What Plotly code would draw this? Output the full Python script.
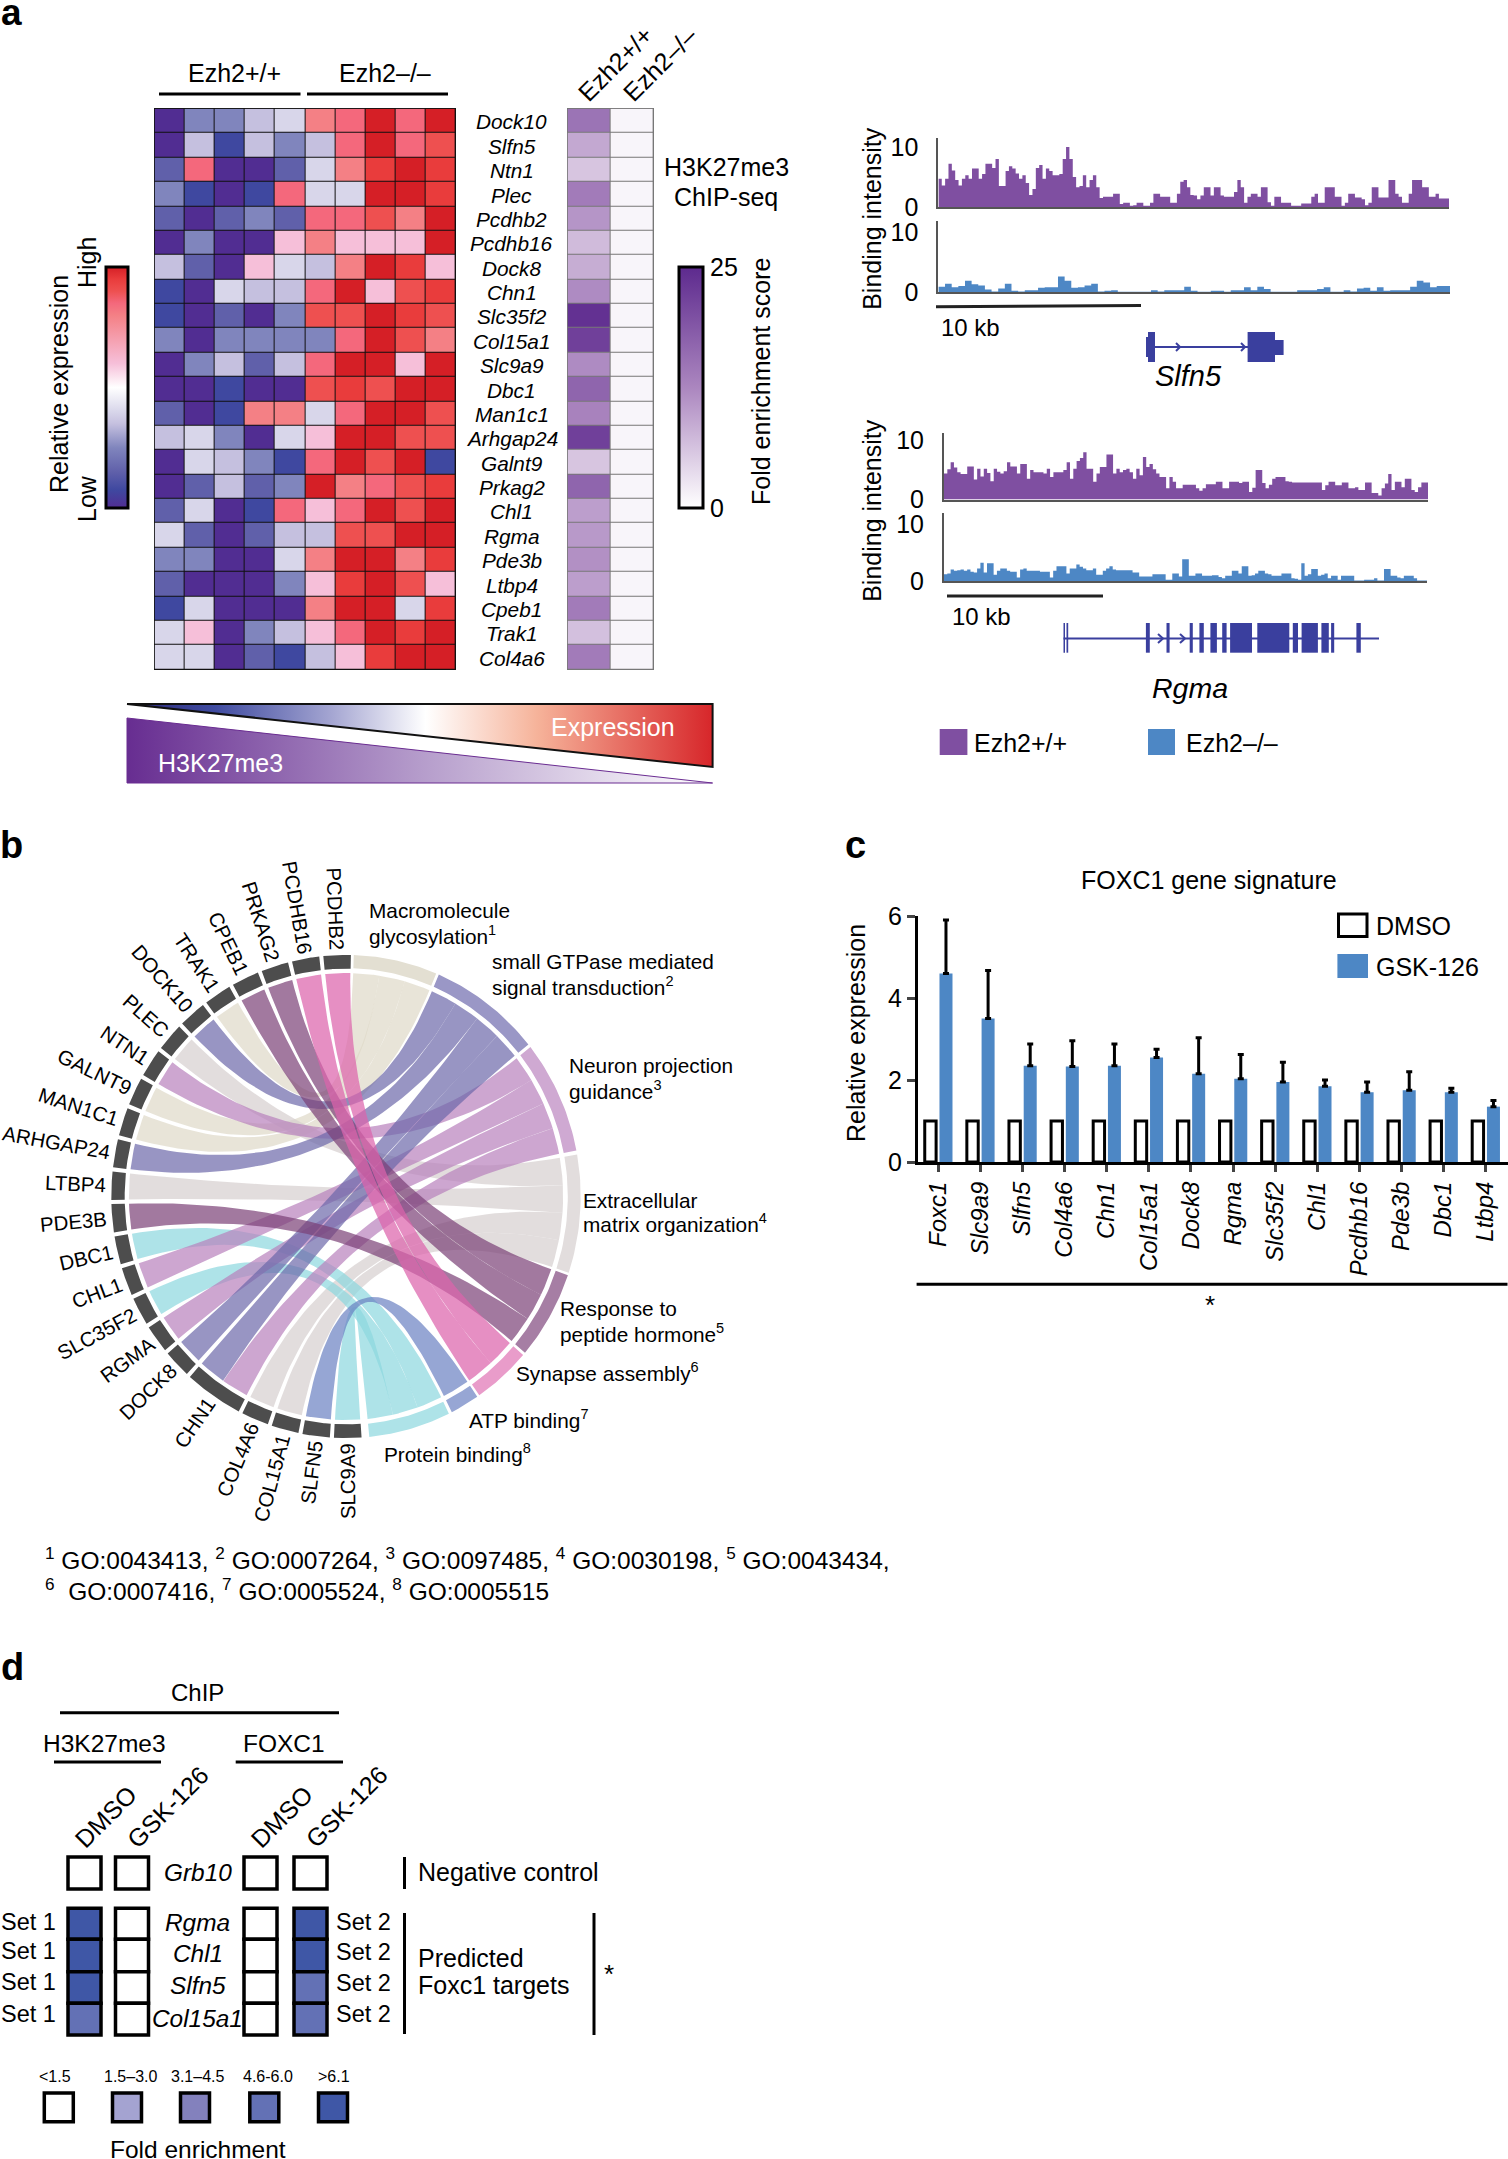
import numpy as np
import plotly.graph_objects as go

W, H = 1508, 2159
FONT = "Liberation Sans"

# ---------- panel a data ----------
heat_genes = ["Dock10","Slfn5","Ntn1","Plec","Pcdhb2","Pcdhb16","Dock8","Chn1","Slc35f2","Col15a1","Slc9a9","Dbc1",
              "Man1c1","Arhgap24","Galnt9","Prkag2","Chl1","Rgma","Pde3b","Ltbp4","Cpeb1","Trak1","Col4a6"]
heat_samples = ["wt1","wt2","wt3","wt4","wt5","ko1","ko2","ko3","ko4","ko5"]
heat_values = [
 [-1,-.5,-.5,-.3,-.2,.6,.7,1,.7,1],
 [-1,-.3,-.85,-.3,-.5,-.3,.7,1,.7,.8],
 [-.7,.7,-1,-1,-.7,-.2,.6,.9,1,.9],
 [-.5,-.85,-1,-.85,.7,-.2,-.2,1,1,.9],
 [-.7,-1,-.7,-.5,-.7,.7,.7,.8,.6,1],
 [-1,-.5,-1,-1,.2,.6,.2,.2,.2,1],
 [-.3,-.7,-1,.2,-.2,-.3,.6,1,.9,.2],
 [-.85,-1,-.2,-.3,-.3,.7,1,.2,.8,.9],
 [-.85,-1,-.7,-1,-.5,.8,.8,1,.9,.8],
 [-.5,-1,-.5,-.5,-.5,-.5,.7,1,.8,.6],
 [-1,-.5,-.3,-.7,-.3,.7,1,1,.2,1],
 [-1,-1,-.85,-1,-1,.8,.9,.8,1,1],
 [-.7,-1,-.85,.6,.6,-.2,.7,1,1,.8],
 [-.3,-.2,-.5,-1,-.2,.2,1,1,.8,.8],
 [-1,-.2,-.3,-.5,-.85,.7,1,.8,1,-.85],
 [-1,-.7,-.3,-.7,-.5,1,.6,.7,.8,.9],
 [-.7,-.2,-1,-.85,.7,.2,.7,1,.8,1],
 [-.2,-.7,-1,-.7,-.3,-.3,.8,.8,1,1],
 [-.5,-.5,-1,-1,-.2,.6,1,1,.6,.9],
 [-.7,-1,-1,-1,-.5,.2,.9,1,.8,.2],
 [-.85,-.2,-1,-1,-1,.6,1,1,-.2,.9],
 [-.2,.2,-1,-.5,-.3,.2,.7,1,.9,1],
 [-.2,-.2,-1,-.7,-.85,-.3,.2,.9,1,1],
]
enrich_wt = [15,9,6,14,11,7,8.5,12,24,22,12,17,13,22,6,17,10,10.5,11.5,10,14,6.5,14]
enrich_ko = [1]*23

slfn5_wt = [4.7,3.6,4.7,7.2,6.1,4.5,3.6,4.7,5.3,4.7,6.4,6.4,4.7,5.5,7.2,7.2,6.5,8,3.5,3.5,6,6.8,6.4,5.6,4.7,5.3,4,2,3,6.5,7,4.7,6.4,6,5.3,5.3,5.5,8,10,8,5,3.3,3.5,5.3,3.3,4.5,5.3,3.3,1.5,1.7,1.7,1.7,2.2,2.2,.5,.7,.7,.2,.3,.7,.7,.2,.2,.7,2.2,2.2,1.7,1.7,1.7,.7,.7,2.2,4.2,4.5,3.3,2,
            1.9,1.3,1.9,3.3,3.3,1.9,3.3,3.3,1.9,1.7,1.7,1.7,2.5,4.5,3.3,.7,1.7,2.2,2.2,1.7,3.3,3.3,.8,.2,1.7,1.7,.7,.7,.7,.2,.2,.2,.6,.6,.6,1.7,2.2,.7,.7,3.3,3.3,3.3,1.7,1.7,.2,.7,2.2,2.2,1.6,1.6,1.3,.3,.7,3.3,3.3,1.6,1.6,1.6,4.5,4.5,2.2,1.7,.7,.7,2.2,4.5,4.5,4.5,3.3,3.3,1.7,1.7,2.2,1.4,1.4,1.4]
slfn5_ko = [.9,1.4,.8,1.0,1.9,1.3,1.1,.4,.1,.6,1.4,.2,.1,.3,.3,.7,.8,.8,2.6,1.9,.7,.8,1.1,1.4,.1,.2,.3,.05,.05,.05,.05,.05,.3,.1,.3,.3,.3,.9,.2,.05,.05,.2,.2,.05,.3,.3,.8,.3,.9,.5,.05,.05,.05,.05,.3,.3,.3,.5,.8,.05,.05,.3,.1,.6,.7,.2,.8,.2,.3,.3,.3,.9,1.9,1.6,.8,1.0,1.0]
rgma_wt = [4.4,5.1,6.3,5.4,4.6,4.3,4.3,5.6,5.6,3.4,5.2,3.9,5.2,4.5,3.1,5.2,4.7,4.4,4.8,6.3,5.6,5.6,4.4,6,6,3.5,5,4.6,4.6,4.6,4.4,5.2,3.8,4.6,4.6,4.6,5,6.3,3.5,5.2,6.5,7,8,5.2,5.2,3,4.4,5.5,5.5,7.6,7.6,4.4,5.2,4.6,5,5.2,4.6,3.5,5.2,4.1,7.2,5.5,6,5.1,4.4,3.8,3.8,1.9,3.8,3,1.9,1.9,2.5,2.5,
           2.5,2.5,1.9,1.5,1.9,2.6,2.6,2.6,3,3,1.9,1.9,3,3,3,2.8,3,3,1.3,2,5,5,2.8,1.9,2.5,3.5,3.8,3.8,3.8,3.1,3,2.9,2.9,2.9,2.9,2.9,2.9,2.9,2.9,2.9,1.6,2.4,3,3,2.4,2.4,2.9,2.9,1.9,1.9,2.1,1.6,1.6,2.9,2.9,1.1,1.1,.7,1.9,2.7,4.3,1.6,3,3,2.1,3.5,3.5,1.6,1.3,2.1,2.9,2.9]
rgma_ko = [1.2,1.3,2,1.8,1.9,2,1.8,2,1.6,1.5,2.2,3.2,1.5,3.1,3.1,1.1,1.8,2.2,2.2,1.8,1.6,1.6,.6,2,2.2,1.8,1.8,1.8,1.8,1.6,1.6,1.6,.6,1.8,2.6,2.6,2.6,1.3,2.2,2.2,2.9,2.5,2.2,1.9,1.9,2.2,1.1,1.1,1.8,2.2,2.6,2,1.9,1.9,1.9,1.9,1.9,1.5,1.5,.8,.8,.8,.8,1.2,1.2,1.2,1.2,.2,.2,1.3,1.3,.8,3.8,3.8,
           .9,.9,1.3,1.3,.9,.9,.9,1,1,.7,.5,.9,.9,1.8,1.8,1.3,2.6,2.6,.9,1,1.3,1.8,1.8,1.3,1.2,.9,.9,.9,1.3,1.3,1.3,.5,.4,.2,3.1,.9,1.2,2.1,2.1,.9,1.1,1.3,.5,.9,.9,.2,.9,.9,.9,.9,.1,.1,.1,.2,.2,.2,.5,.1,.1,2.1,2.1,.9,.9,.6,.5,.9,.9,.9,.5,.1,.1,.1]

# ---------- panel b data ----------
chord_genes = ["PCDHB2","PCDHB16","PRKAG2","CPEB1","TRAK1","DOCK10","PLEC","NTN1","GALNT9","MAN1C1","ARHGAP24","LTBP4",
               "PDE3B","DBC1","CHL1","SLC35F2","RGMA","DOCK8","CHN1","COL4A6","COL15A1","SLFN5","SLC9A9"]
chord_terms = ["Macro","GTPase","Neuron","ECM","Response","Synapse","ATP","Protein"]
chord_links = [("PCDHB2","Synapse"),("PCDHB16","Synapse"),("PRKAG2","Response"),("CPEB1","Response"),("TRAK1","Macro"),
               ("DOCK10","GTPase"),("PLEC","ECM"),("NTN1","Neuron"),("GALNT9","Macro"),("MAN1C1","Macro"),("ARHGAP24","GTPase"),
               ("LTBP4","ECM"),("PDE3B","Response"),("DBC1","Protein"),("CHL1","Neuron"),("SLC35F2","Protein"),("RGMA","Neuron"),
               ("DOCK8","GTPase"),("CHN1","GTPase"),("CHN1","Neuron"),("COL4A6","ECM"),("COL15A1","ECM"),("SLFN5","ATP"),("SLC9A9","Protein")]

# ---------- panel c data ----------
bar_genes = ["Foxc1","Slc9a9","Slfn5","Col4a6","Chn1","Col15a1","Dock8","Rgma","Slc35f2","Chl1","Pcdhb16","Pde3b","Dbc1","Ltbp4"]
dmso_vals = [1]*14
gsk_vals = [4.6,3.5,2.35,2.33,2.35,2.55,2.15,2.03,1.95,1.85,1.7,1.75,1.7,1.35]
gsk_top = [5.9,4.67,2.88,2.96,2.88,2.75,3.03,2.62,2.43,2.0,1.95,2.2,1.8,1.5]

# ---------- panel d data ----------
chip_rows = ["Rgma","Chl1","Slfn5","Col15a1"]
h3_dmso = [4,4,4,3]
h3_gsk = [0,0,0,0]
fx_dmso = [0,0,0,0]
fx_gsk = [4,4,3,3]
grb10_row = [0,0,0,0]
fold_labels = ["<1.5","1.5–3.0","3.1–4.5","4.6-6.0",">6.1"]
fold_levels = [0,1,2,3,4]

# ---------- helpers ----------
layout_axes, annots, shapes, traces = {}, [], [], []

def text(x, y, t, size=25, anchor="center", angle=0, color="black", bold=False, italic=False):
    if bold: t = f"<b>{t}</b>"
    if italic: t = f"<i>{t}</i>"
    if anchor == "left": x = max(x-2.5, 0)
    annots.append(dict(xref="paper", yref="paper", x=x/W, y=1-y/H, text=t, showarrow=False, xanchor=anchor,
                       yanchor="middle", textangle=angle, font=dict(family=FONT, size=size, color=color), borderpad=0))

def rect(x0, y0, x1, y1, fill="black", line=None, lw=0, layer="above"):
    shapes.append(dict(type="rect", xref="paper", yref="paper", x0=x0/W, x1=x1/W, y0=1-y0/H, y1=1-y1/H,
                       fillcolor=fill, line=dict(color=line or fill, width=lw), layer=layer))

def line(x0, y0, x1, y1, color="black", lw=3):
    shapes.append(dict(type="line", xref="paper", yref="paper", x0=x0/W, x1=x1/W, y0=1-y0/H, y1=1-y1/H,
                       line=dict(color=color, width=lw)))

def axes(n, x0, x1, y0, y1, xopt=None, yopt=None):
    base = dict(showgrid=False, zeroline=False, visible=False)
    xo = dict(base, domain=[x0/W, x1/W], anchor=f"y{n}"); xo.update(xopt or {})
    yo = dict(base, domain=[1-y1/H, 1-y0/H], anchor=f"x{n}"); yo.update(yopt or {})
    layout_axes[f"xaxis{n}"] = xo
    layout_axes[f"yaxis{n}"] = yo
    return f"x{n}", f"y{n}"

# ---------- panel a: heatmaps ----------
expr_scale = [[0,'#512d92'],[.075,'#3f48a0'],[.15,'#6060aa'],[.25,'#8085bd'],[.35,'#c5c0df'],[.4,'#d8d6ea'],[.5,'#ffffff'],
              [.6,'#f6bfd9'],[.8,'#f48085'],[.85,'#f4687c'],[.9,'#ee5050'],[.95,'#e93c3c'],[1,'#d51f26']]
xa, ya = axes(1, 154.6, 455.6, 108.7, 669.4, yopt=dict(autorange="reversed"))
rect(154, 108, 456, 670, fill="#111111", layer="below")
traces.append(go.Heatmap(z=heat_values, x=heat_samples, y=heat_genes, xaxis=xa, yaxis=ya, colorscale=expr_scale, zmin=-1, zmax=1,
    xgap=1, ygap=1, hoverinfo="skip",
    colorbar=dict(x=105.7/W, xanchor="left", y=1-267/H, yanchor="top", len=241, lenmode="pixels", thickness=22, thicknessmode="pixels",
                  outlinecolor="black", outlinewidth=3, showticklabels=False, ticks="", xpad=0, ypad=0)))
enrich_scale = [[0,'#ffffff'],[.5,'#ab86bf'],[1,'#5d2a8e']]
xa, ya = axes(2, 567.6, 653.4, 108.7, 669.4, yopt=dict(autorange="reversed"))
rect(567, 108, 654, 670, fill="#777777", layer="below")
traces.append(go.Heatmap(z=[list(v) for v in zip(enrich_wt, enrich_ko)], x=["Ezh2+/+","Ezh2-/-"], y=heat_genes, xaxis=xa, yaxis=ya,
    colorscale=enrich_scale, zmin=0, zmax=25, xgap=1, ygap=1, hoverinfo="skip",
    colorbar=dict(x=678.6/W, xanchor="left", y=1-267/H, yanchor="top", len=241, lenmode="pixels", thickness=24, thicknessmode="pixels",
                  outlinecolor="black", outlinewidth=3, tickvals=[0,25], ticks="", tickfont=dict(family=FONT, size=25), xpad=0, ypad=0)))
row_h = (669.4-108.7)/23
for i, g in enumerate(heat_genes):
    text(511.5, 109.7+row_h*(i+.5), g, size=20.8, italic=True)

text(235, 73, "Ezh2+/+"); text(385, 73, "Ezh2–/–")
line(159, 94, 300.5, 94); line(307, 94, 448, 94)
text(615, 64, "Ezh2+/+", angle=-45); text(660, 64, "Ezh2–/–", angle=-45)
text(726, 167, "H3K27me3"); text(726, 197, "ChIP-seq")
text(59, 384, "Relative expression", angle=-90); text(87, 263, "High", angle=-90); text(87, 499, "Low", angle=-90)
text(761, 381, "Fold enrichment score", angle=-90)

# gradient wedges
xa, ya = axes(3, 120, 720, 698, 790, xopt=dict(range=[120,720]), yopt=dict(range=[790,698]))
expr_wedge_x, expr_wedge_y = [127,712.6,712.6,127], [704,704,767,704]
h3_wedge_x, h3_wedge_y = [127,127,712.6,127], [718,783,783,718]
traces.append(go.Scatter(x=expr_wedge_x, y=expr_wedge_y, xaxis=xa, yaxis=ya, mode="lines", line=dict(color="#111111", width=2), fill="toself",
    fillgradient=dict(type="horizontal", colorscale=[[0,'#2e2a7a'],[.15,'#3f4ba0'],[.35,'#a5a6d2'],[.51,'#ffffff'],[.7,'#f6b39a'],[1,'#d7262a']]), hoverinfo="skip"))
traces.append(go.Scatter(x=h3_wedge_x, y=h3_wedge_y, xaxis=xa, yaxis=ya, mode="lines", line=dict(color="#6a2c91", width=1), fill="toself",
    fillgradient=dict(type="horizontal", colorscale=[[0,'#672d91'],[.5,'#b59ccb'],[1,'#ffffff']]), hoverinfo="skip"))
text(613, 727, "Expression", color="white"); text(220.5, 763, "H3K27me3", color="white")

# ---------- panel a: binding tracks ----------
PURPLE, BLUE = "#7f4fa1", "#4d87c5"
def track(n, vals, x0, x1, y0, y1, top, color):
    xa, ya = axes(n, x0, x1, y0, y1,
        xopt=dict(visible=True, range=[0,len(vals)], showline=True, linecolor="#555555", linewidth=2, showticklabels=False, ticks=""),
        yopt=dict(visible=True, range=[0,top], showline=True, linecolor="#555555", linewidth=2, tickvals=[0,10], ticks="",
                  tickfont=dict(family=FONT, size=25), ticklabelstandoff=13))
    bins = list(range(len(vals)+1))
    traces.append(go.Scatter(x=bins, y=list(vals)+[vals[-1]], xaxis=xa, yaxis=ya, mode="lines", fill="tozeroy",
                             line=dict(shape="hv", width=0, color=color), fillcolor=color, hoverinfo="skip"))
track(4, slfn5_wt, 938.4, 1449, 138, 207, 11.5, PURPLE)
track(5, slfn5_ko, 938.4, 1450, 220.5, 292, 12, BLUE)
track(6, rgma_wt, 944, 1428, 432.6, 499.6, 11.3, PURPLE)
track(7, rgma_ko, 944, 1427, 513, 581, 11.9, BLUE)
text(871.8, 218, "Binding intensity", angle=-90); text(871.8, 510, "Binding intensity", angle=-90)
line(936, 306.7, 1141, 305.4, color="#222222"); text(970, 327.7, "10 kb", size=24)
line(947, 596, 1103, 596, color="#222222"); text(981, 616.5, "10 kb", size=24)
GENE = "#3a3f9e"
# Slfn5 gene model
line(1146, 347, 1248, 347, color=GENE, lw=2)
rect(1146, 337, 1155, 357, fill=GENE); rect(1148, 332, 1155, 362, fill=GENE)
rect(1247.6, 332, 1275, 362, fill=GENE); rect(1275, 340, 1283.6, 355, fill=GENE)
for c in (1180, 1245):
    line(c-4, 343, c, 347, color=GENE, lw=2); line(c-4, 351, c, 347, color=GENE, lw=2)
text(1188, 376, "Slfn5", size=29, italic=True)
# Rgma gene model
line(1063.5, 638.4, 1379, 638.4, color=GENE, lw=2)
for a, b in [(1063.5,1065),(1066.5,1068.2),(1145.9,1149.8),(1166.5,1169.6),(1189.7,1192.8),(1199.4,1203.8),(1210.4,1216.9),(1222.2,1226.6),
             (1230.1,1252),(1257.3,1289.3),(1292.8,1298),(1301.6,1317.9),(1321.4,1328.8),(1331.1,1334.2),(1356.4,1360.8)]:
    rect(a, 623, b, 652.7, fill=GENE)
for c in (1163, 1185):
    line(c-5, 634, c, 638.4, color=GENE, lw=2); line(c-5, 643, c, 638.4, color=GENE, lw=2)
text(1189.7, 688, "Rgma", size=28.5, italic=True)
# legend
rect(939.7, 729, 967.4, 755, fill=PURPLE); text(975.7, 743, "Ezh2+/+", anchor="left")
rect(1148, 729, 1175, 755, fill=BLUE); text(1187.5, 743, "Ezh2–/–", anchor="left")

# ---------- panel b: chord ----------
cx, cy, Rx, Ry = 346, 1196.5, 234.7, 241.6
PAD = 1.12
xa, ya = axes(8, cx-PAD*Rx, cx+PAD*Rx, cy-PAD*Ry, cy+PAD*Ry, xopt=dict(range=[-PAD,PAD]), yopt=dict(range=[-PAD,PAD]))
term_start = dict(Macro=1.9, GTPase=23.3, Neuron=51.8, ECM=80, Response=109, Synapse=131, ATP=146, Protein=154)
term_end = dict(Macro=22.6, GTPase=51, Neuron=79, ECM=108.4, Response=130.3, Synapse=145.4, ATP=153.2, Protein=174.3)
term_ring = dict(Macro='#e3dfd2', GTPase='#9a97c6', Neuron='#cfa9d2', ECM='#e2dddd', Response='#a67ea4', Synapse='#e99cca', ATP='#97a6d4', Protein='#aee3e8')
term_rib = dict(Macro='rgba(222,216,199,.7)', GTPase='rgba(108,104,169,.7)', Neuron='rgba(184,128,188,.7)', ECM='rgba(214,206,206,.7)',
                Response='rgba(122,64,118,.7)', Synapse='rgba(221,100,172,.72)', ATP='rgba(106,128,194,.7)', Protein='rgba(139,215,222,.7)')
draw_order = ["Macro","ECM","Protein","Neuron","GTPase","ATP","Response","Synapse"]
UNIT, GAP, START = 7.75, 1.0, 361.2
def pt(a, r):
    t = np.radians(a)
    return r*np.sin(t), r*np.cos(t)
def arc(a0, a1, r, n=24):
    return pt(np.linspace(a0, a1, n), r)
def band(a0, a1, r0, r1, color):
    x0, y0 = arc(a0, a1, r1); x1, y1 = arc(a1, a0, r0)
    traces.append(go.Scatter(x=np.r_[x0, x1], y=np.r_[y0, y1], xaxis=xa, yaxis=ya, mode="lines", fill="toself", fillcolor=color,
                             line=dict(width=0, color=color), hoverinfo="skip"))
def bez(a0, a1, r):
    p0, p1 = np.array(pt(a0, r)), np.array(pt(a1, r))
    t = np.linspace(0, 1, 50)
    return (1-t)**2*p0[0]+t**2*p1[0], (1-t)**2*p0[1]+t**2*p1[1]

link_count = {g: sum(1 for a, _ in chord_links if a == g) for g in chord_genes}
term_count = {t: sum(1 for _, b in chord_links if b == t) for t in chord_terms}
gene_pos, cursor = {}, START
for g in chord_genes:
    span = UNIT*link_count[g]
    gene_pos[g] = (cursor-span+GAP, cursor)
    cursor -= span
used_g = {g: 0 for g in chord_genes}; used_t = {t: 0 for t in chord_terms}
RIB = .925
ribbons = []
for g, t in chord_links:
    hi, lo = gene_pos[g][1], gene_pos[g][0]
    w = (hi-lo)/link_count[g]
    g_hi = hi-used_g[g]*w; g_lo = g_hi-w
    used_g[g] += 1
    tw = (term_end[t]-term_start[t])/term_count[t]
    t0 = term_start[t]+used_t[t]*tw; t1 = t0+tw
    used_t[t] += 1
    ribbons.append((t, t0, t1, g_lo+.05, g_hi-.05))
for t, t0, t1, g0, g1 in sorted(ribbons, key=lambda r: draw_order.index(r[0])):
    ax0, ay0 = arc(t0, t1, RIB); bx0, by0 = bez(t1, g0, RIB); ax1, ay1 = arc(g0, g1, RIB); bx1, by1 = bez(g1, t0, RIB)
    traces.append(go.Scatter(x=np.r_[ax0, bx0, ax1, bx1], y=np.r_[ay0, by0, ay1, by1], xaxis=xa, yaxis=ya, mode="lines", fill="toself",
                             fillcolor=term_rib[t], line=dict(width=0, color=term_rib[t]), hoverinfo="skip"))
CW = dict(zip("ABCDEFGHIJKLMNOPQRSTUVWXYZ0123456789",
              [.667,.667,.722,.722,.667,.611,.778,.722,.278,.5,.667,.556,.833,.722,.778,.667,.778,.722,.667,.611,.722,.667,.944,.667,.667,.611]+[.556]*10))
for g in chord_genes:
    band(gene_pos[g][0], gene_pos[g][1], .943, 1.0, "#4d4d4d")
    mid = sum(gene_pos[g])/2
    L = sum(CW[c] for c in g)*20.4
    px = cx+(Rx+5+L/2)*np.sin(np.radians(mid)); py = cy-(Ry+5+L/2)*np.cos(np.radians(mid))
    text(px, py, g, size=20.4, angle=(mid-360)+90)
for t in chord_terms:
    band(term_start[t], term_end[t], .945, 1.0, term_ring[t])

for x, y, s in [(370,910,"Macromolecule"),(370,934.6,"glycosylation<sup>1</sup>"),(493,961,"small GTPase mediated"),(493,985.6,"signal transduction<sup>2</sup>"),
                (570,1065.7,"Neuron projection"),(570,1090,"guidance<sup>3</sup>"),(584.7,1200,"Extracellular"),(584.7,1223,"matrix organization<sup>4</sup>"),
                (561,1308,"Response to"),(561,1332.6,"peptide hormone<sup>5</sup>"),(517,1372,"Synapse assembly<sup>6</sup>"),(470,1418.5,"ATP binding<sup>7</sup>"),(385,1453,"Protein binding<sup>8</sup>")]:
    text(x, y, s, size=20.8, anchor="left")
text(46, 1558.6, "<sup>1</sup> GO:0043413, <sup>2</sup> GO:0007264, <sup>3</sup> GO:0097485, <sup>4</sup> GO:0030198, <sup>5</sup> GO:0043434,", size=24.5, anchor="left")
text(46, 1589, "<sup>6</sup>  GO:0007416, <sup>7</sup> GO:0005524, <sup>8</sup> GO:0005515", size=24.5, anchor="left")

# ---------- panel c: bars ----------
xa, ya = axes(9, 918, 1508, 916, 1162,
    xopt=dict(visible=True, range=[-.48,13.53], showline=True, linecolor="black", linewidth=3, ticks="outside", ticklen=7, tickwidth=3,
              tickmode="array", tickvals=bar_genes, ticktext=[f"<i>{g}</i>" for g in bar_genes], tickangle=-90, tickfont=dict(family=FONT, size=24), categoryorder="array", categoryarray=bar_genes),
    yopt=dict(visible=True, range=[0,6], showline=True, linecolor="black", linewidth=3, ticks="outside", ticklen=8, tickwidth=3, tickvals=[0,2,4,6], tickfont=dict(family=FONT, size=25)))
traces.append(go.Bar(x=bar_genes, y=dmso_vals, xaxis=xa, yaxis=ya, width=.27, offset=-.32, marker=dict(color="white", line=dict(color="black", width=3)), hoverinfo="skip"))
traces.append(go.Bar(x=bar_genes, y=gsk_vals, xaxis=xa, yaxis=ya, width=.309, offset=.03, marker=dict(color=BLUE, line=dict(width=0)), hoverinfo="skip",
    error_y=dict(type="data", symmetric=False, array=[t-v for t, v in zip(gsk_top, gsk_vals)], arrayminus=[0]*14, color="black", thickness=3, width=3)))
text(1209, 880, "FOXC1 gene signature")
text(856, 1033, "Relative expression", angle=-90)
rect(1338.5, 914, 1367, 936.5, fill="white", line="black", lw=3); text(1377.6, 925.7, "DMSO", anchor="left")
rect(1337.4, 954, 1368, 978, fill=BLUE); text(1377.6, 966.7, "GSK-126", anchor="left")
line(916.6, 1284.3, 1507.5, 1284.3); text(1209.6, 1305, "*", size=26)

# ---------- panel d: matrix ----------
xa, ya = axes(10, 0, 660, 1850, 2130, xopt=dict(range=[0,660]), yopt=dict(range=[2130,1850]))
LEVEL = ['#ffffff','#a4a3d1','#8381bd','#6371b5','#3f57a6']
def cells(xc, w, tops, hs, levels):
    traces.append(go.Bar(x=xc, y=hs, base=tops, width=w, xaxis=xa, yaxis=ya, marker=dict(color=[LEVEL[l] for l in levels], line=dict(color="black", width=3.5)), hoverinfo="skip"))
col_c = [84.5, 132, 260.5, 310.5]
row_tops = [1908.3, 1939.3, 1971.7, 2003.3]
row_hs = [31, 32.4, 31.6, 31.7]
for c, vals in zip(col_c, (h3_dmso, h3_gsk, fx_dmso, fx_gsk)):
    cells([c]*4, [33]*4, row_tops, row_hs, vals)
cells(col_c, [33]*4, [1857]*4, [32]*4, grb10_row)
leg_c = [58.8, 127, 195, 264.3, 333]
cells(leg_c, [29]*5, [2093]*5, [28.7]*5, fold_levels)
text(197, 1692.7, "ChIP", size=24); line(60, 1712.7, 339, 1712.7)
text(104.4, 1743, "H3K27me3", size=24.5); line(54, 1762, 161, 1762)
text(284, 1743, "FOXC1", size=24.5); line(235.7, 1762, 343, 1762)
for x, y, s in [(105,1816.7,"DMSO"),(167.5,1806.7,"GSK-126"),(281,1816.7,"DMSO"),(346,1806.7,"GSK-126")]:
    text(x, y, s, angle=-45)
for y, s in zip([1872, 1922, 1953, 1985.7, 2018], ["Grb10"]+chip_rows):
    text(197.8, y, s, size=24.4, italic=True)
for y in [1922.3, 1950.7, 1982.3, 2014]:
    text(0, y, "Set 1", anchor="left", size=23.5)
for y in [1921.7, 1952.3, 1983.3, 2014]:
    text(337.5, y, "Set 2", anchor="left", size=23.5)
line(404.5, 1857, 404.5, 1889); line(404.5, 1913, 404.5, 2034); line(594, 1913, 594, 2035)
text(609, 1974, "*", size=26)
text(419.6, 1872, "Negative control", anchor="left"); text(419.6, 1958, "Predicted", anchor="left"); text(419.6, 1985, "Foxc1 targets", anchor="left")
for x, s in zip([54.7, 130, 197.8, 267.7, 333.8], fold_labels):
    text(x, 2076.7, s.replace("<", "&lt;").replace(">", "&gt;"), size=16)
text(197.8, 2149, "Fold enrichment", size=24.5)

# panel letters
text(11, 12, "a", size=37, bold=True); text(11, 845, "b", size=38, bold=True)
text(855, 845, "c", size=38, bold=True); text(12, 1667, "d", size=38, bold=True)

fig = go.Figure(data=traces)
fig.update_layout(width=W, height=H, margin=dict(l=0, r=0, t=0, b=0, pad=0, autoexpand=False), showlegend=False, paper_bgcolor="white", plot_bgcolor="rgba(0,0,0,0)",
                  barmode="overlay", font=dict(family=FONT, color="black"), annotations=annots, shapes=shapes, **layout_axes)
fig.write_html("out.html", config={"displayModeBar": False}, post_script="document.body.style.margin='0';")
